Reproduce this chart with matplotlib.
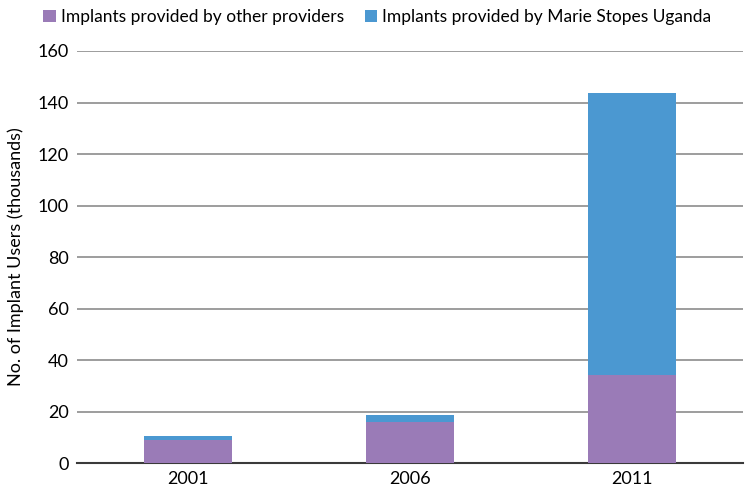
import matplotlib
matplotlib.use("Agg")
import matplotlib.pyplot as plt
import numpy as np

plt.rcParams['font.family'] = ['Lato', 'DejaVu Sans']

years = ['2001', '2006', '2011']
other = [9.0, 15.8, 34.2]
msu = [1.6, 2.9, 109.4]

fig = plt.figure(figsize=(7.5, 4.99), dpi=100)
ax = fig.add_axes([0.1027, 0.0721, 0.888, 0.8257])

x = np.arange(len(years))
ax.bar(x, other, width=0.4, color='#9a7bb7', label='Implants provided by other providers', zorder=3)
ax.bar(x, msu, width=0.4, bottom=other, color='#4b98d1', label='Implants provided by Marie Stopes Uganda', zorder=3)

ax.set_xlim(-0.5, 2.5)
ax.set_ylim(0, 160)
ax.set_yticks(range(0, 161, 20))
ax.set_xticks(x)
ax.set_xticklabels(years)
ax.tick_params(axis='both', length=0, labelsize=13, pad=6)
ax.yaxis.grid(True, color='#8c8c8c', linewidth=1.2, zorder=0)
for s in ['left', 'right', 'top']:
    ax.spines[s].set_visible(False)
ax.spines['bottom'].set_color('#3a3a3a')
ax.spines['bottom'].set_linewidth(1.5)
ax.set_ylabel('No. of Implant Users (thousands)', fontsize=13, labelpad=10)

fig.legend(loc='center', bbox_to_anchor=(0.503, 0.966), ncol=2, frameon=False,
           fontsize=12.5, handlelength=0.7, handleheight=0.7, handletextpad=0.3,
           columnspacing=1.2, borderpad=0)

fig.savefig('out.png', dpi=100)
